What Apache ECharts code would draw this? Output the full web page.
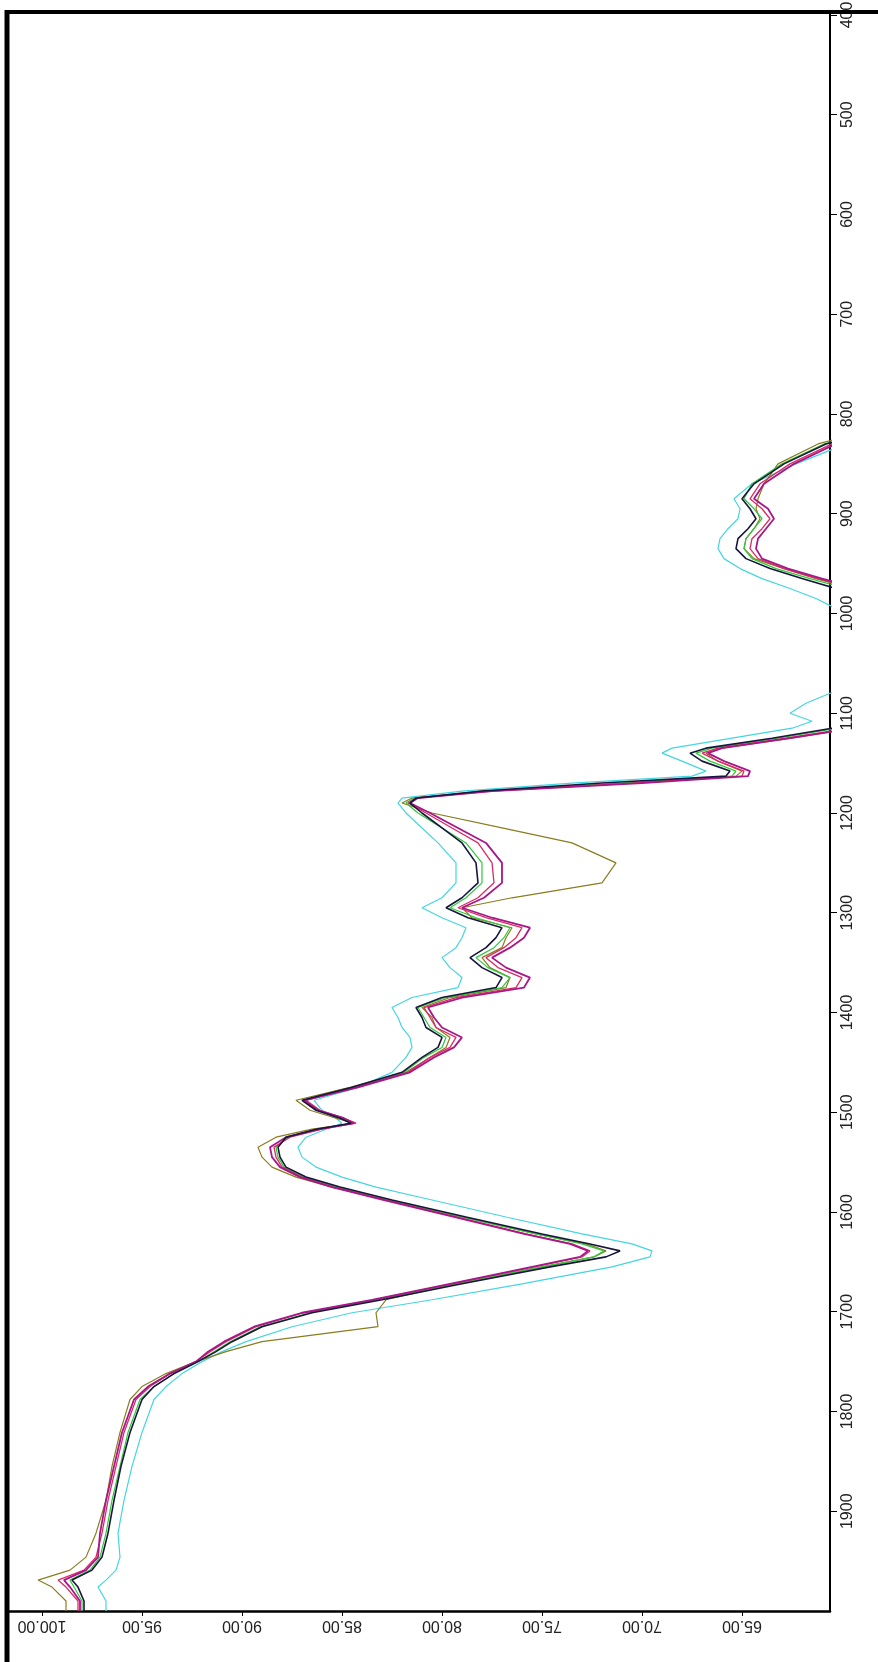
<!DOCTYPE html>
<html><head><meta charset="utf-8">
<script src="https://cdn.jsdelivr.net/npm/echarts@6/dist/echarts.min.js"></script>
<style>html,body{margin:0;padding:0;background:#fff}#c{width:878px;height:1662px}</style>
</head><body><div id="c"></div>
<script>
// Wavenumber (cm-1) sample positions shared by all spectra
const wavenumbers = [395,800,815,830,850,870,885,895,905,915,925,935,945,955,965,975,985,995,1010,1070,1080,1090,1100,1108,1115,1125,1135,1140,1148,1158,1163,1170,1178,1185,1190,1200,1215,1230,1250,1270,1285,1295,1305,1315,1325,1335,1345,1355,1365,1375,1385,1395,1405,1415,1425,1435,1445,1460,1475,1488,1498,1506,1511,1517,1525,1535,1545,1555,1565,1575,1588,1605,1622,1632,1639,1645,1655,1672,1688,1701,1715,1730,1740,1750,1762,1775,1788,1821,1855,1889,1922,1946,1959,1969,1976,1990,2000];

// Transmittance (%) per sample
const cyanT = [40,50,57,59.8,62.3,64.5,65.4,65.1,65.2,65.7,66.1,66.2,65.9,65.1,64.0,62.6,61.3,60.3,57,58,60.6,61.8,62.6,61.5,62.5,65.5,68.5,69.0,68.0,66.8,67.5,73.5,79.0,82.0,82.2,81.8,81.0,80.2,79.3,79.3,80.0,81.0,80.0,78.8,79.0,79.3,80.0,79.6,79.0,79.2,81.5,82.5,82.2,82.0,81.6,81.5,81.8,82.5,84.2,86.4,86.0,85.3,85.0,85.8,86.8,87.2,87.0,86.3,85.0,83.3,80.5,76.8,73.0,70.5,69.5,69.6,71.5,76.0,80.5,84.5,87.5,89.8,91.0,92.0,93.0,93.8,94.4,95.0,95.5,95.9,96.2,96.1,96.3,96.8,97.2,96.8,96.8];
const oliveT = [40,50,58.5,61.2,63.2,63.9,64.2,64.3,64.1,64.4,64.8,64.9,64.4,62.9,61.3,59.5,57.5,55,51,49,51,53,55,57,59.5,62.5,66.0,66.8,66.2,65.0,65.3,70.5,77.5,81.5,82.0,80.5,77.0,73.5,71.3,72.0,76.5,79.0,78.5,76.5,76.8,77.0,78.0,77.6,76.6,76.8,79.6,81.0,80.5,80.3,79.6,79.8,80.6,81.8,84.6,87.3,86.6,85.3,84.4,86.5,88.3,89.2,89.0,88.5,87.3,85.5,82.8,79.0,75.3,72.8,71.8,72.4,75.0,79.3,82.8,83.3,83.2,89.0,90.8,92.3,93.8,95.0,95.6,96.1,96.5,96.8,97.3,97.8,98.6,100.2,99.5,98.8,98.8];
const greenT = [40,50,58,60.9,63.0,64.5,64.9,64.4,64.0,64.4,64.8,64.9,64.5,63.3,61.6,59.8,58.0,55.5,51.5,49.5,51.5,53.5,55.5,57.5,60.2,63.2,66.5,67.3,66.6,65.3,65.5,71.0,78.0,81.4,81.8,81.2,80.0,78.8,78.0,78.0,78.8,79.6,78.3,76.6,76.9,77.4,78.3,77.7,76.6,77.0,79.8,81.2,80.9,80.6,79.8,80.0,80.9,81.9,84.4,86.9,86.2,85.0,84.5,86.2,87.7,88.3,88.2,87.9,86.9,85.2,82.6,79.0,75.3,73.0,71.9,72.4,75.0,79.3,83.2,86.6,89.1,90.6,91.4,92.2,93.4,94.4,95.1,95.7,96.1,96.5,96.8,97.1,97.6,98.6,98.4,98.0,98.0];
const redT = [40,50,57.5,60.5,62.6,64.1,64.6,64.0,63.6,64.0,64.5,64.6,64.2,62.9,61.2,59.3,57.5,55,51,49,51,53,55,57,59.6,62.8,66.2,67.0,66.2,64.9,65.0,70.5,77.8,81.3,81.7,80.8,79.5,78.2,77.5,77.4,78.2,79.2,77.8,76.0,76.3,76.9,77.8,77.2,76.0,76.3,79.3,80.9,80.6,80.3,79.3,79.6,80.6,81.7,84.3,86.8,86.1,84.9,84.3,86.0,87.6,88.4,88.3,88.0,87.0,85.4,82.8,79.3,75.8,73.5,72.6,73.0,75.4,79.5,83.4,86.9,89.3,90.8,91.6,92.3,93.6,94.6,95.3,95.9,96.3,96.7,97.0,97.3,97.9,99.2,98.8,98.2,98.2];
const magentaT = [40,50,57.3,60.3,62.4,63.9,64.4,63.7,63.4,63.8,64.2,64.3,64.0,62.7,61.0,59.1,57.3,55,51,49,51,53,55,57,59.4,62.6,66.0,66.7,65.9,64.6,64.7,70.0,77.5,81.2,81.6,80.6,79.2,77.8,77.0,77.0,77.9,79.0,77.5,75.6,75.9,76.6,77.5,76.8,75.6,75.9,79.0,80.7,80.4,80.0,79.0,79.4,80.4,81.6,84.2,86.9,86.2,84.9,84.4,86.1,87.8,88.6,88.5,88.1,87.1,85.5,82.9,79.4,75.9,73.6,72.7,73.1,75.5,79.6,83.5,87.0,89.4,90.9,91.7,92.3,93.6,94.7,95.4,96.0,96.4,96.8,97.1,97.2,97.8,98.9,98.6,98.1,98.1];
const blackT = [40,50,58,60.8,62.9,64.4,65.0,64.6,64.3,64.7,65.2,65.3,64.8,63.6,62.0,60.3,58.5,56,52,50,52,54,56,58,60.5,63.5,66.8,67.6,67.0,65.6,65.8,72.0,78.0,81.3,81.6,81.0,80.0,79.0,78.3,78.2,79.0,79.8,78.7,77.0,77.3,77.8,78.6,78.0,77.0,77.3,80.0,81.3,81.0,80.8,80.0,80.2,81.0,82.0,84.5,87.0,86.3,85.1,84.55,86.3,87.8,88.2,88.1,87.8,86.8,85.1,82.5,78.8,75.0,72.6,71.1,71.8,74.6,79.0,83.0,86.5,89.0,90.5,91.3,92.2,93.4,94.4,95.0,95.6,96.05,96.4,96.7,97.0,97.5,98.5,98.2,97.9,97.9];

// Tick labels
const transTicks = [65,70,75,80,85,90,95,100];
const waveTicks = [400,500,600,700,800,900,1000,1100,1200,1300,1400,1500,1600,1700,1800,1900];

const seriesDefs = [
  {name:'cyan', color:'#44d6e0', data:cyanT, w:1.2},
  {name:'olive', color:'#8a7d1e', data:oliveT, w:1.2},
  {name:'green', color:'#2ec83a', data:greenT, w:1.2},
  {name:'red', color:'#dc2a62', data:redT, w:1.3},
  {name:'magenta', color:'#a8168a', data:magentaT, w:1.8},
  {name:'black', color:'#16163e', data:blackT, w:1.6}
];

const chart = echarts.init(document.getElementById('c'), null, {renderer:'canvas'});
const font = 'Liberation Sans, Arial, sans-serif';
chart.setOption({
  animation:false,
  backgroundColor:'#fff',
  grid:{left:9, top:12, width:821, height:1599, containLabel:false, outerBoundsMode:'none'},
  xAxis:{
    type:'value', min:60.6, max:101.65, inverse:true, position:'bottom',
    axisLine:{show:true, onZero:false, lineStyle:{color:'#000', width:2.5}},
    axisTick:{show:true, inside:false, length:5, customValues:transTicks, lineStyle:{color:'#000', width:1}},
    axisLabel:{show:true, customValues:transTicks, rotate:180, margin:6, color:'#222', fontSize:16, fontFamily:font,
      formatter:v=>Number(v).toFixed(2)},
    splitLine:{show:false}
  },
  yAxis:{
    type:'value', min:397, max:2000, inverse:true, position:'right',
    axisLine:{show:true, onZero:false, lineStyle:{color:'#000', width:2}},
    axisTick:{show:true, inside:false, length:7, customValues:waveTicks, lineStyle:{color:'#000', width:1}},
    axisLabel:{show:true, customValues:waveTicks, rotate:90, margin:10, color:'#222', fontSize:16, fontFamily:font,
      formatter:v=>String(Math.round(v))},
    splitLine:{show:false}
  },
  graphic:[
    {type:'line', shape:{x1:5, y1:12, x2:878, y2:12}, style:{stroke:'#000', lineWidth:4}, z:100},
    {type:'line', shape:{x1:7, y1:10, x2:7, y2:1662}, style:{stroke:'#000', lineWidth:5}, z:100}
  ],
  series: seriesDefs.map(s=>({
    type:'line', name:s.name, showSymbol:false, symbol:'none', clip:true, smooth:false,
    lineStyle:{color:s.color, width:s.w},
    data: wavenumbers.map((w,i)=>[s.data[i], w])
  }))
});
</script></body></html>
